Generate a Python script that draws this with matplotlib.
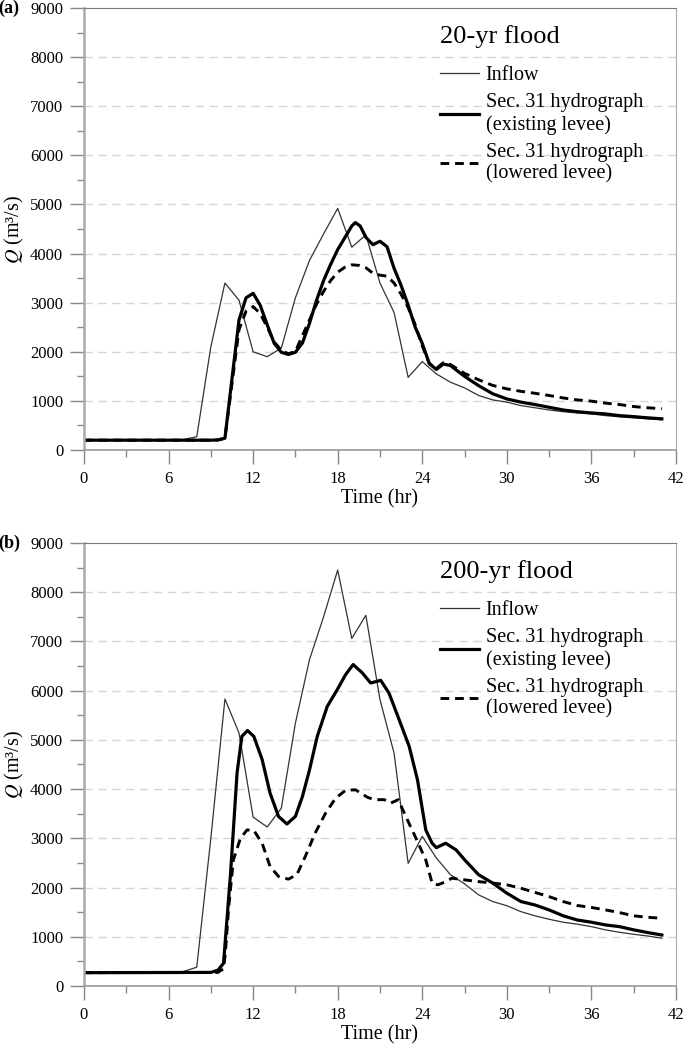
import matplotlib
matplotlib.use('Agg')
import matplotlib.pyplot as plt
from matplotlib.ticker import MultipleLocator

plt.rcParams['font.family'] = ['Liberation Serif', 'DejaVu Serif']
plt.rcParams['mathtext.fontset'] = 'stix'

HOURS = list(range(0, 42))

# (a) 20-yr flood
INFLOW_A = [200, 200, 200, 200, 200, 200, 200, 210, 270, 2100,
            3400, 3050, 2000, 1900, 2075, 3100, 3860, 4400, 4920, 4130,
            4380, 3400, 2800, 1480, 1800, 1550, 1380, 1265, 1110, 1020,
            975, 905, 860, 815, 780, 755, 735, 700, 675, 655,
            635, 615]
EXIST_A_T = [0, 9, 9.5, 10, 10.5, 11, 11.5, 12, 12.5, 13, 13.5, 14, 14.5,
             15, 15.5, 16, 16.5, 17, 17.5, 18, 18.5, 19, 19.25, 19.6, 20,
             20.5, 21, 21.5, 22, 22.5, 23, 23.5, 24, 24.5, 25, 25.5, 26,
             27, 28, 29, 30, 31, 32, 33, 34, 35, 36, 37, 38, 39, 40, 41]
EXIST_A = [200, 200, 205, 240, 1450, 2650, 3100, 3190, 2950, 2550, 2170,
           1990, 1945, 1990, 2180, 2580, 3050, 3450, 3780, 4080, 4320,
           4560, 4630, 4560, 4330, 4180, 4250, 4140, 3700, 3350, 2950,
           2500, 2170, 1760, 1640, 1750, 1720, 1500, 1310, 1145, 1040,
           975, 925, 870, 815, 780, 755, 735, 700, 680, 655, 635]
LOWER_A_T = [0, 9, 9.5, 10, 10.5, 11, 11.5, 12, 12.5, 13, 13.5, 14, 14.5,
             15, 15.5, 16, 16.5, 17, 17.5, 18, 18.5, 19, 19.5, 20, 20.5,
             21, 21.5, 22, 22.5, 23, 23.5, 24, 24.5, 25, 25.5, 26, 27, 28,
             29, 30, 31, 32, 33, 34, 35, 36, 37, 38, 39, 40, 41]
LOWER_A = [200, 200, 205, 240, 1350, 2450, 2830, 2920, 2780, 2500, 2200,
           2030, 1960, 2010, 2330, 2650, 2970, 3230, 3450, 3620, 3720,
           3770, 3760, 3710, 3600, 3560, 3540, 3400, 3170, 2900, 2550,
           2120, 1760, 1660, 1780, 1740, 1560, 1430, 1315, 1245, 1195,
           1155, 1110, 1060, 1020, 995, 955, 925, 885, 860, 840]

# (b) 200-yr flood
INFLOW_B = [260, 260, 260, 260, 260, 260, 260, 290, 380, 3000,
            5830, 5140, 3430, 3230, 3610, 5340, 6630, 7500, 8450, 7060,
            7530, 5820, 4730, 2490, 3040, 2600, 2260, 2075, 1850, 1715,
            1630, 1510, 1425, 1355, 1295, 1255, 1205, 1140, 1090, 1050,
            1015, 970]
EXIST_B_T = [0, 9, 9.5, 9.9, 10.4, 10.86, 11.2, 11.6, 12.05, 12.64, 13.2,
             13.8, 14.4, 15, 15.5, 16, 16.55, 17.26, 17.97, 18.56, 19.1,
             19.75, 20.34, 21.05, 21.64, 22.36, 23.07, 23.66, 24.25, 24.7,
             25, 25.66, 26.4, 27, 28, 29, 30, 31, 32, 33, 34, 35, 36, 37,
             38, 39, 40, 41]
EXIST_B = [270, 275, 320, 460, 2290, 4325, 5070, 5190, 5070, 4600, 3920,
           3445, 3290, 3445, 3850, 4390, 5070, 5680, 6020, 6325, 6530,
           6360, 6155, 6210, 5950, 5410, 4870, 4190, 3170, 2900, 2810,
           2900, 2765, 2565, 2260, 2090, 1885, 1715, 1645, 1545, 1425,
           1340, 1295, 1240, 1205, 1140, 1085, 1035]
LOWER_B_T = [0, 9.5, 9.9, 10.03, 10.27, 10.6, 11.1, 11.57, 12.05, 12.64,
             13.2, 13.8, 14.5, 15.1, 15.7, 16.4, 17.14, 17.85, 18.56,
             19.27, 20.1, 20.58, 21.3, 21.76, 22.3, 22.83, 23.5, 24.25,
             24.7, 25.1, 25.7, 26.1, 27, 28, 29, 30, 31, 32, 33, 34, 35,
             36, 37, 38, 39, 40, 41]
LOWER_B = [270, 275, 350, 660, 1610, 2560, 3000, 3170, 3160, 2900, 2430,
           2225, 2170, 2260, 2630, 3105, 3510, 3815, 3975, 3985, 3835,
           3785, 3785, 3715, 3785, 3445, 3035, 2560, 2090, 2055, 2120,
           2190, 2155, 2120, 2090, 2055, 1985, 1900, 1815, 1715, 1635,
           1595, 1545, 1490, 1425, 1395, 1375]

PANELS = [
    ('(a)', '20-yr flood', INFLOW_A, EXIST_A_T, EXIST_A, LOWER_A_T, LOWER_A),
    ('(b)', '200-yr flood', INFLOW_B, EXIST_B_T, EXIST_B, LOWER_B_T, LOWER_B),
]
LABELS = ('Inflow', 'Sec. 31 hydrograph\n(existing levee)',
          'Sec. 31 hydrograph\n(lowered levee)')


def draw(ax, tag, title, inflow, et, ev, lt, lv):
    ax.plot(HOURS, inflow, color='#333333', lw=0.9, label=LABELS[0])
    ax.plot(et, ev, color='black', lw=2.3, label=LABELS[1])
    ax.plot(lt, lv, color='black', lw=2.1, dashes=(3, 2), label=LABELS[2])

    ax.set_xlim(0, 42)
    ax.set_ylim(0, 9000)
    ax.xaxis.set_major_locator(MultipleLocator(6))
    ax.xaxis.set_minor_locator(MultipleLocator(3))
    ax.yaxis.set_major_locator(MultipleLocator(1000))
    ax.yaxis.set_minor_locator(MultipleLocator(500))
    ax.tick_params(which='major', length=10, width=1, color='#888888',
                   labelsize=12, pad=5, direction='out')
    ax.tick_params(which='minor', length=5, width=1, color='#888888',
                   direction='out')
    for t in (1000, 2000, 3000, 4000, 5000, 6000, 7000, 8000):
        ax.axhline(t, color='#d6d6d6', lw=1, dashes=(6, 4), zorder=0)
    ax.spines['left'].set_color('#aaaaaa')
    ax.spines['left'].set_linewidth(1.8)
    ax.spines['bottom'].set_color('#999999')
    ax.spines['bottom'].set_linewidth(1.2)
    ax.spines['top'].set_color('#777777')
    ax.spines['right'].set_color('#aaaaaa')

    ax.set_xlabel('Time (hr)', fontsize=14.5, labelpad=2)
    ax.set_ylabel(r'$Q$ (m³/s)', fontsize=14.5, labelpad=3)

    leg = ax.legend(loc='upper left', bbox_to_anchor=(0.585, 0.985),
                    frameon=False, fontsize=14.5, title=title,
                    title_fontsize=19, alignment='left', handlelength=1.9,
                    handletextpad=0.35, labelspacing=0.4, borderpad=0)
    leg._legend_box.sep = 13  # more room under the title
    ax.text(-0.145, 1.0, tag, transform=ax.transAxes, fontsize=13,
            fontweight='bold', ha='left', va='center')


def main():
    fig = plt.figure(figsize=(6.85, 10.48), dpi=100)
    ax1 = fig.add_axes([0.1226, 0.5706, 0.8642, 0.4218])
    ax2 = fig.add_axes([0.1226, 0.0592, 0.8642, 0.4227])
    for ax, p in zip((ax1, ax2), PANELS):
        draw(ax, *p)
    fig.savefig('out.png', dpi=100)


if __name__ == '__main__':
    main()
